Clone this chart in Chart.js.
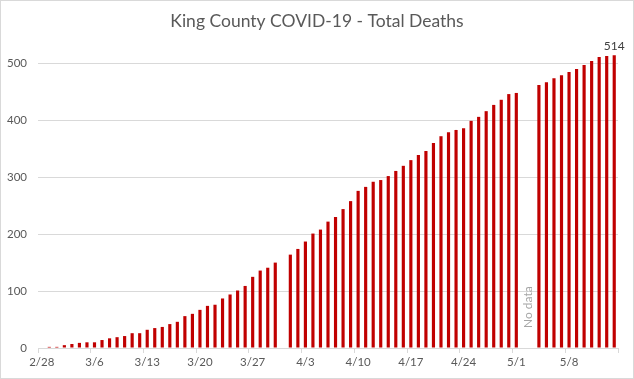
<!DOCTYPE html>
<html>
<head>
<meta charset="utf-8">
<script src="https://cdn.jsdelivr.net/npm/chart.js@4/dist/chart.umd.min.js"></script>
<style>
  html, body { margin: 0; padding: 0; background: #fff; }
  #wrap { width: 634px; height: 379px; position: relative; }
</style>
</head>
<body>
<div id="wrap"><canvas id="c"></canvas></div>
<script>
const chartTitle = "King County COVID-19 - Total Deaths";
const categories = [
  "2/28","2/29",
  "3/1","3/2","3/3","3/4","3/5","3/6","3/7","3/8","3/9","3/10","3/11","3/12","3/13","3/14","3/15","3/16",
  "3/17","3/18","3/19","3/20","3/21","3/22","3/23","3/24","3/25","3/26","3/27","3/28","3/29","3/30","3/31",
  "4/1","4/2","4/3","4/4","4/5","4/6","4/7","4/8","4/9","4/10","4/11","4/12","4/13","4/14","4/15",
  "4/16","4/17","4/18","4/19","4/20","4/21","4/22","4/23","4/24","4/25","4/26","4/27","4/28","4/29","4/30",
  "5/1","5/2","5/3","5/4","5/5","5/6","5/7","5/8","5/9","5/10","5/11","5/12","5/13","5/14"
];
const totalDeaths = [
  0, 2,
  2, 5, 7, 9, 10, 10, 14, 17, 19, 21, 26, 26, 32, 35, 37,
  42, 46, 56, 60, 67, 74, 76, 87, 94, 101, 109, 125, 136, 141, 150, null,
  164, 174, 187, 201, 208, 222, 230, 244, 258, 276, 283, 292, 295, 302, 311,
  320, 330, 339, 346, 360, 372, 379, 383, 386, 399, 406, 416, 427, 436, 446, 448,
  null, null, 462, 467, 474, 479, 485, 490, 497, 504, 511, 513, 514
];
const yTicks = [0, 100, 200, 300, 400, 500];
const noDataText = "No data";
const noDataCategories = ["5/2", "5/3"];
const labelledCategory = "5/14";

const FONT = "Lato, 'Open Sans', sans-serif";
const GRID = "#d9d9d9";
const TEXT = "#595959";

const extras = {
  id: "extras",
  beforeDraw(chart) {
    const ctx = chart.ctx;
    ctx.save();
    ctx.fillStyle = "#fff";
    ctx.fillRect(0, 0, chart.width, chart.height);
    ctx.restore();
  },
  afterDraw(chart) {
    const ctx = chart.ctx;
    const xs = chart.scales.x;
    const ys = chart.scales.y;
    ctx.save();
    // title
    ctx.fillStyle = TEXT;
    ctx.font = "17.5px " + FONT;
    ctx.textAlign = "center";
    ctx.textBaseline = "middle";
    ctx.fillText(chartTitle, chart.width / 2, 21);
    // data label on last bar
    const li = categories.indexOf(labelledCategory);
    const bar = chart.getDatasetMeta(0).data[li];
    ctx.fillStyle = "#404040";
    ctx.font = "12px " + FONT;
    ctx.textBaseline = "bottom";
    ctx.fillText(String(totalDeaths[li]), bar.x, bar.y - 3);
    // No data note
    const i1 = categories.indexOf(noDataCategories[0]);
    const i2 = categories.indexOf(noDataCategories[1]);
    const nx = (xs.getPixelForValue(i1) + xs.getPixelForValue(i2)) / 2;
    ctx.translate(nx + 1, ys.getPixelForValue(0) - 20);
    ctx.rotate(-Math.PI / 2);
    ctx.fillStyle = "#a6a6a6";
    ctx.font = "12px " + FONT;
    ctx.textAlign = "left";
    ctx.textBaseline = "middle";
    ctx.fillText(noDataText, 0, 0);
    ctx.restore();
    // outer border
    ctx.save();
    ctx.strokeStyle = GRID;
    ctx.lineWidth = 1;
    ctx.strokeRect(0.5, 0.5, chart.width - 1, chart.height - 1);
    ctx.restore();
  }
};

new Chart(document.getElementById("c"), {
  type: "bar",
  data: {
    labels: categories,
    datasets: [{
      label: "Total Deaths",
      data: totalDeaths,
      backgroundColor: "#c00000",
      borderWidth: 0,
      categoryPercentage: 1.0,
      barPercentage: 0.42
    }]
  },
  options: {
    responsive: true,
    maintainAspectRatio: false,
    animation: false,
    layout: { padding: { top: 40, right: 16, left: 0, bottom: 0 } },
    plugins: {
      legend: { display: false },
      title: { display: false },
      tooltip: { enabled: false }
    },
    scales: {
      x: {
        offset: true,
        afterFit(scale) { scale.height = 31; },
        grid: {
          offset: true,
          drawOnChartArea: false,
          drawTicks: true,
          tickLength: 5,
          color: (c) => (c.type === "tick" ? (c.index % 7 === 0 ? GRID : "rgba(0,0,0,0)") : GRID)
        },
        border: { display: true, color: GRID },
        ticks: {
          autoSkip: false,
          maxRotation: 0,
          minRotation: 0,
          padding: 2,
          color: TEXT,
          font: { family: FONT, size: 11.5 },
          callback: (v, i) => (i % 7 === 0 ? categories[i] : "")
        }
      },
      y: {
        min: 0,
        max: 541,
        afterFit(scale) { scale.width = 38; },
        afterBuildTicks(scale) { scale.ticks = yTicks.map(v => ({ value: v })); },
        grid: { color: GRID, drawTicks: false },
        border: { display: false },
        ticks: {
          padding: 11,
          color: TEXT,
          font: { family: FONT, size: 11.5 }
        }
      }
    }
  },
  plugins: [extras]
});
</script>
</body>
</html>
